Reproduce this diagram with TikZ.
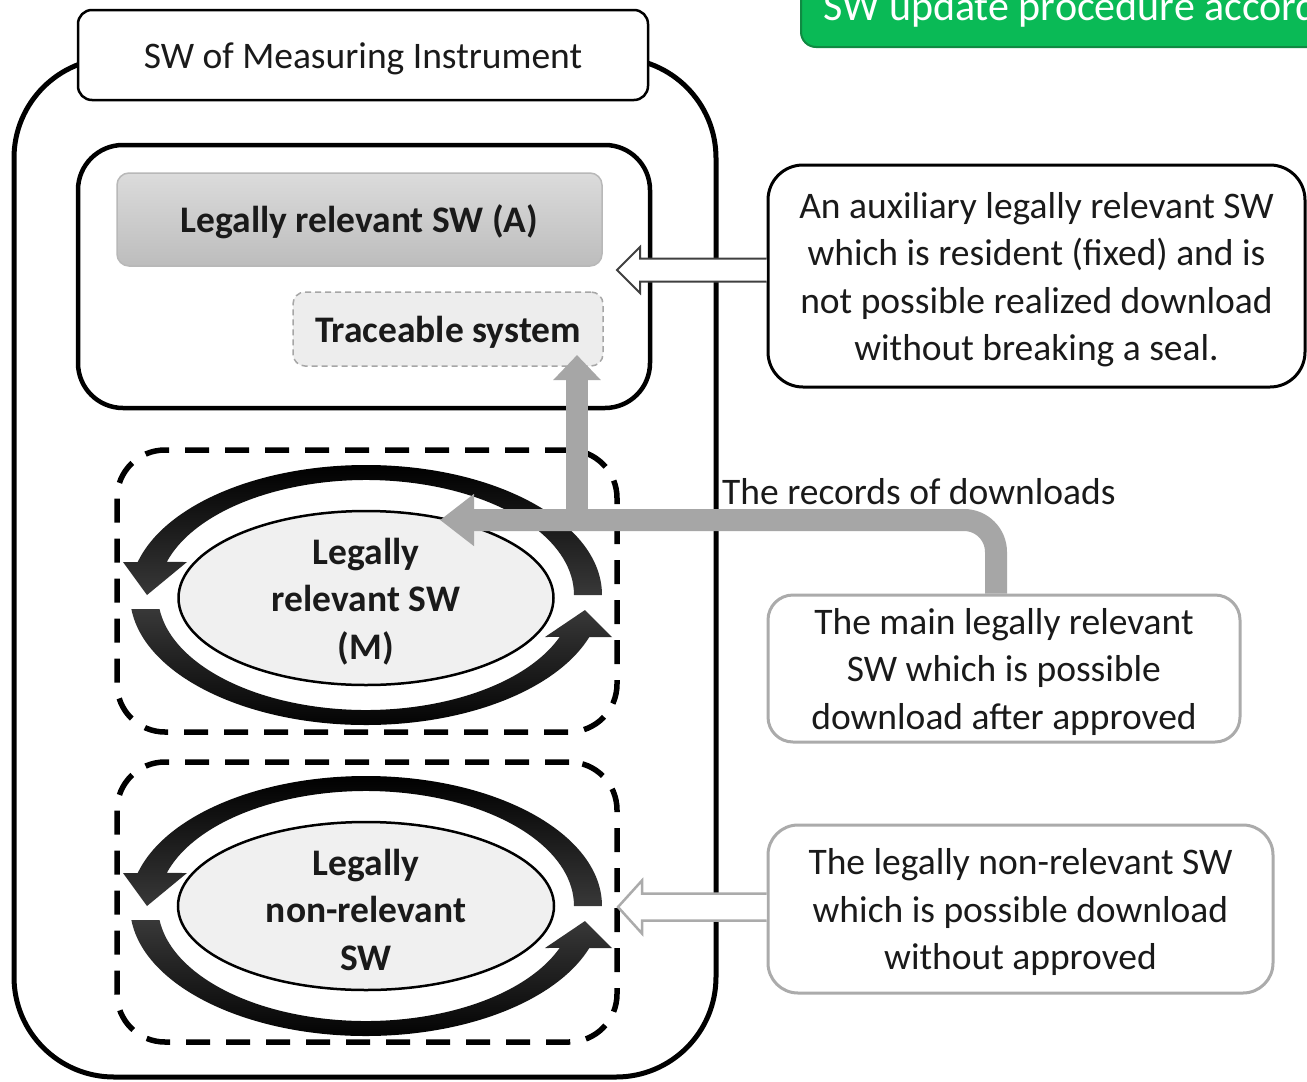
\documentclass[tikz,border=0pt]{standalone}
\usepackage{fontspec}
\setmainfont{Carlito}
\usetikzlibrary{arrows.meta,calc,shapes.geometric}

\definecolor{recgray}{HTML}{A6A6A6}
\definecolor{upgreen}{RGB}{10,186,86}
\definecolor{upgreendark}{RGB}{16,138,66}
\definecolor{ink}{HTML}{1A1A1A}

% a tall invisible rule so that text sits a little lower in its box
\newcommand\liftline{\rule{0pt}{33pt}}

\tikzset{
  txt/.style={font=\fontsize{37.5pt}{47.5pt}\selectfont, text=ink,
    execute at begin node=\liftline},
  boldtxt/.style={font=\fontsize{37.5pt}{47.5pt}\selectfont\bfseries, text=ink,
    execute at begin node=\liftline},
  frame/.style={draw=black, line width=#1, fill=white, inner sep=0pt},
  dashframe/.style={draw=black, line width=5.5pt, dash pattern=on 24pt off 16pt,
    rounded corners=48pt, minimum width=500pt, inner sep=0pt},
  swell/.style={ellipse, draw=black, line width=2.5pt, fill=black!6, inner sep=0pt},
  descbox/.style={txt, draw=#1, line width=3pt, fill=white, align=center, inner sep=4pt},
  recline/.style={draw=recgray, line width=22pt},
  hollowdark/.style={draw=black!75, line width=2pt, fill=white, line join=miter},
  hollowgray/.style={draw=black!33, line width=2.5pt, fill=white, line join=miter},
}

% open block arrow from the edge of a box to a tip point
% #1 style, #2 start anchor, #3 tip, #4 half shaft, #5 half head, #6 head length
\newcommand\hollowarrow[6]{%
  \draw[#1] ($(#2 |- #3)+(0,-#4)$) -- ($(#3)+(#6,-#4)$) -- ($(#3)+(#6,-#5)$)
    -- (#3) -- ($(#3)+(#6,#5)$) -- ($(#3)+(#6,#4)$) -- ($(#2 |- #3)+(0,#4)$);}

% two curved arrows running round an ellipse
\newcommand\cyclearrows[1]{%
  \shade[top color=black, bottom color=black!78]
    ($(#1)+(0:236 and 130)$)
    arc[start angle=0, end angle=-165.3, x radius=236, y radius=130]
    -- ($(#1)+(-243,-33)$) -- ($(#1)+(-219,0)$) -- ($(#1)+(-179,-33)$)
    -- ($(#1)+(-163.3:208 and 115)$)
    arc[start angle=-163.3, end angle=0, x radius=208, y radius=115] -- cycle;
  \shade[top color=black!78, bottom color=black]
    ($(#1)+(173.8:236 and 130)$)
    arc[start angle=173.8, end angle=18.85, x radius=236, y radius=130]
    -- ($(#1)+(246,42)$) -- ($(#1)+(219,15)$) -- ($(#1)+(179,42)$)
    -- ($(#1)+(21.4:208 and 115)$)
    arc[start angle=21.4, end angle=173, x radius=208, y radius=115] -- cycle;}

\begin{document}
\begin{tikzpicture}[x=1pt, y=-1pt]
\useasboundingbox (0,0) rectangle (1307,1082);
\clip (0,0) rectangle (1307,1082);
\fill[white] (0,0) rectangle (1307,1082);

% update banner
\node[fill=upgreen, draw=upgreendark, line width=2pt, rounded corners=15pt,
      minimum width=700pt, minimum height=80pt, anchor=south west] (updbox) at (800,48) {};
\node[anchor=base west, inner sep=0pt, font=\fontsize{42pt}{50pt}\selectfont, text=white]
      (updtext) at (823,20) {SW update procedure according};

% instrument software frame
\node[frame=5pt, rounded corners=100pt, minimum width=702pt, minimum height=1019pt]
      (outer) at (365,567.5) {};
\node[frame=2.5pt, rounded corners=14pt, minimum width=570pt, minimum height=90pt, txt]
      (title) at (363,55) {SW of Measuring Instrument};

% fixed part
\node[frame=4.5pt, rounded corners=45pt, minimum width=572pt, minimum height=263pt]
      (acont) at (364,276.5) {};
\node[boldtxt, rounded corners=12pt, top color=black!14, bottom color=black!26,
      draw=black!28, line width=1.5pt, minimum width=485pt, minimum height=93pt]
      (swA) at (359.5,219.5) {Legally relevant SW (A)};
\node[boldtxt, rounded corners=12pt, fill=black!7, draw=black!35, line width=1.5pt,
      dash pattern=on 6pt off 4pt, minimum width=310pt, minimum height=74pt]
      (trace) at (448,329) {Traceable system};

% downloadable parts
\node[dashframe, minimum height=282pt] (dashM) at (367,591) {};
\node[dashframe, minimum height=280pt] (dashN) at (367,902) {};

\coordinate (cycM) at (366,595);
\coordinate (cycN) at (366,906);
\cyclearrows{cycM}
\cyclearrows{cycN}

\node[swell, minimum width=375pt, minimum height=174pt] (ellM) at (366,598) {};
\node[boldtxt, align=center, inner sep=0pt] (ellMtext) at (ellM.center)
      {\liftline Legally\\relevant SW\\(M)};
\node[swell, minimum width=376pt, minimum height=168pt] (ellN) at (366,906) {};
\node[boldtxt, align=center, inner sep=0pt] (ellNtext) at (366,906.5)
      {\liftline Legally\\non-relevant\\SW};

% explanations
\node[descbox=black, rounded corners=35pt, minimum width=537pt, minimum height=222pt]
      (descA) at (1036.5,276)
      {\liftline An auxiliary legally relevant SW\\which is resident (fixed) and is\\not possible realized download\\without breaking a seal.};
\node[descbox=black!33, rounded corners=25pt, minimum width=472pt, minimum height=147pt]
      (descM) at (1004,668.5)
      {\liftline The main legally relevant\\SW which is possible\\download after approved};
\node[descbox=black!33, rounded corners=30pt, minimum width=505pt, minimum height=168pt]
      (descN) at (1020.5,909)
      {\liftline The legally non-relevant SW\\which is possible download\\without approved};

% records of downloads
\coordinate (recBend) at (996,520);
\coordinate (recTip) at (440,520);
\coordinate (traceTip) at (577,355);
\draw[recline, -{Triangle[width=46pt,length=25pt]}] (recBend -| traceTip) -- (traceTip);
\draw[recline, rounded corners=32pt, -{Triangle[width=50pt,length=34pt]}]
      (descM.north -| recBend) -- (recBend) -- (recTip);
\node[txt, anchor=base west, inner sep=0pt] (rectext) at (722,504) {The records of downloads};

% pointers from explanations
\coordinate (tipA) at (617,270);
\coordinate (tipN) at (618,907);
\hollowarrow{hollowdark}{descA.west}{tipA}{11.5}{23}{23}
\hollowarrow{hollowgray}{descN.west}{tipN}{13.5}{26.5}{24}
\end{tikzpicture}
\end{document}
